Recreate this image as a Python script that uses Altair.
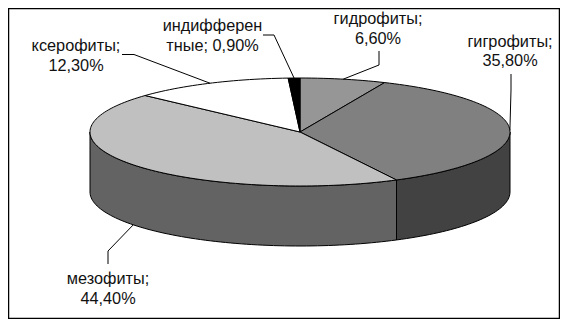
import math
import altair as alt

# data (percent, clockwise from 12 o'clock)
names = ["гидрофиты", "гигрофиты", "мезофиты", "ксерофиты", "индифферентные"]
shares = [6.6, 35.8, 44.4, 12.3, 0.9]
top_colors = ["#969696", "#808080", "#c0c0c0", "#ffffff", "#000000"]
wall_colors = ["#4b4b4b", "#424242", "#636363", "#808080", "#000000"]
label_line1 = ["гидрофиты;", "гигрофиты;", "мезофиты;", "ксерофиты;", "индифферен"]
label_line2 = ["6,60%", "35,80%", "44,40%", "12,30%", "тные; 0,90%"]

# layout, in page pixels
W, H = 552, 311
OX, OY = 8, 8
CX, CY, RX, RY, DEPTH = 300, 132, 210, 54, 60
FRAME = (8.5, 8.5, 559.5, 318.5)
label_x = [378, 510, 108, 76, 212.5]
label_y1 = [19, 42, 279, 46, 26]
label_y2 = [38.5, 61, 299, 66, 46]
elbows = [
    [(379, 51), (379, 65)],
    [(511, 74), (511, 90)],
    [(108, 264), (108, 251)],
    [(122, 54.5), (134, 54.5)],
    [(263, 35), (274, 35)],
]


def rim(deg, drop=0.0):
    r = math.radians(deg)
    return [round(CX + RX * math.sin(r), 2), round(CY - RY * math.cos(r) + drop, 2)]


def arc(a, b, drop=0.0):
    n = max(2, int(abs(b - a) / 1.5))
    return [rim(a + (b - a) * i / n, drop) for i in range(n + 1)]


def poly(pts):
    return {"type": "Polygon", "coordinates": [pts + [pts[0]]]}


bounds = [0.0]
for s in shares:
    bounds.append(bounds[-1] + s * 3.6)

tops, walls, leaders = [], [], []
for i, name in enumerate(names):
    a, b = bounds[i], bounds[i + 1]
    tops.append({"type": "Feature", "properties": {"c": top_colors[i]},
                 "geometry": poly([[CX, CY]] + arc(a, b))})
    lo, hi = max(a, 90), min(b, 270)
    if lo < hi:
        walls.append({"type": "Feature", "properties": {"c": wall_colors[i]},
                      "geometry": poly(arc(lo, hi) + arc(hi, lo, DEPTH))})
    mid = (a + b) / 2
    anchor = rim(mid, DEPTH if name == "мезофиты" else 0)
    leaders.append({"type": "Feature", "properties": {"c": "#000000"},
                    "geometry": {"type": "LineString",
                                 "coordinates": [list(p) for p in elbows[i]] + [anchor]}})

x0, y0, x1, y1 = FRAME
frame = [{"type": "Feature", "properties": {"c": "#ffffff"},
          "geometry": poly([[x0, y0], [x1, y0], [x1, y1], [x0, y1]])}]

proj = alt.Projection(type="identity", scale=1, translate=[-OX, -OY]).to_dict()


def shapes(features, width=1.0, filled=True):
    data = alt.Data(values={"type": "FeatureCollection", "features": features},
                    format=alt.DataFormat(type="json", property="features"))
    if filled:
        return alt.Chart(data).mark_geoshape(
            stroke="#000000", strokeWidth=width, strokeJoin="round"
        ).encode(fill=alt.Fill("properties.c:N", scale=None)).project(**proj)
    return alt.Chart(data).mark_geoshape(
        filled=False, stroke="#000000", strokeWidth=width
    ).project(**proj)


rows = []
for i in range(len(names)):
    rows.append({"t": label_line1[i], "x": label_x[i], "y": label_y1[i]})
    rows.append({"t": label_line2[i], "x": label_x[i], "y": label_y2[i]})

xs = alt.Scale(domain=[OX, OX + W], range=[0, W])
ys = alt.Scale(domain=[OY, OY + H], range=[0, H])
text = alt.Chart(alt.Data(values=rows)).mark_text(
    font="Liberation Sans", fontSize=16.3, color="#111111", align="center", baseline="middle"
).encode(x=alt.X("x:Q", scale=xs, axis=None), y=alt.Y("y:Q", scale=ys, axis=None), text="t:N")

chart = alt.layer(
    shapes(frame, width=1.5),
    shapes(walls),
    shapes(tops),
    shapes(leaders, filled=False),
    text,
).resolve_scale(x="independent", y="independent").properties(
    width=W, height=H, padding=0, background="white",
    autosize=alt.AutoSizeParams(type="none"),
).configure_view(stroke=None)

chart.save("out.html", embed_options={"renderer": "svg", "actions": False})
